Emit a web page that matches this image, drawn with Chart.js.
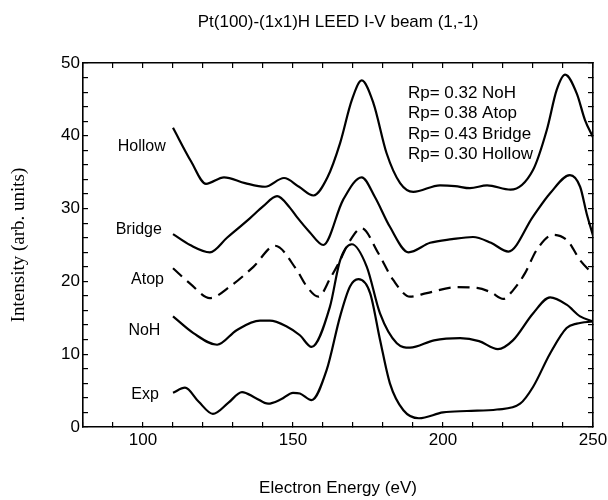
<!DOCTYPE html>
<html>
<head>
<meta charset="utf-8">
<script src="https://cdn.jsdelivr.net/npm/chart.js@4.4.1/dist/chart.umd.min.js"></script>
<style>
    html, body { margin: 0; padding: 0; background: #fff; }
</style>
</head>
<body>
<canvas id="ivChart" width="608" height="500"></canvas>
<script>
// values (energies in eV, intensities in arb. units)
const hollowEnergy = [110, 116, 121, 127, 134, 140.7, 147, 152, 156.8, 161.5, 165.7, 169.6, 172.9, 176.8, 181.2, 185.7, 190.1, 199, 204, 209, 214.7, 222.5, 230, 234.6, 237.9, 240.7, 244.6, 247.3, 250];
const hollowIntensity = [41.1, 36.5, 33.4, 34.3, 33.5, 33.0, 34.2, 33.0, 31.8, 34.3, 39.0, 44.9, 47.6, 44.5, 37.6, 33.5, 32.3, 33.2, 33.1, 32.8, 33.2, 32.6, 35.3, 40.8, 46.3, 48.4, 45.8, 42.2, 39.8];

const bridgeEnergy = [110, 115.7, 122.3, 128, 135.7, 140, 144.7, 149, 151.2, 155.5, 160.1, 166.7, 172.9, 177.3, 182.3, 188.5, 195.7, 203, 210, 216, 221.8, 230, 235.7, 242.3, 245.7, 247.9, 250];
const bridgeIntensity = [26.5, 25.0, 24.0, 26.0, 28.7, 30.3, 31.7, 30.1, 28.9, 26.8, 25.0, 31.2, 34.3, 31.6, 27.5, 24.0, 25.3, 25.8, 26.1, 25.3, 24.1, 28.9, 32.1, 34.6, 33.0, 29.3, 26.3];

const atopEnergy = [110, 115.7, 122.3, 129, 136.8, 144, 151.2, 154.6, 158.5, 162.5, 165.7, 168.4, 172.9, 178.4, 183.4, 189, 194.6, 204.7, 211.3, 216, 220.1, 223.4, 227.3, 231.2, 236.7, 241.7, 245.7, 250];
const atopIntensity = [21.8, 19.7, 17.7, 19.3, 22.0, 24.9, 21.6, 19.3, 17.9, 20.5, 22.9, 25.2, 27.3, 23.9, 20.2, 17.9, 18.4, 19.2, 19.1, 18.5, 17.6, 18.8, 21.1, 24.3, 26.4, 25.5, 22.9, 21.0];

const nohEnergy = [110, 116.8, 124.7, 131.2, 139, 142.3, 147.9, 152.3, 156.2, 162.3, 165.7, 169.6, 174.6, 179, 184.6, 189, 197, 205.7, 212, 218.3, 223.3, 230, 235.7, 241.2, 245.7, 250];
const nohIntensity = [15.2, 12.9, 11.3, 13.3, 14.6, 14.6, 13.8, 12.6, 11.0, 16.5, 22.9, 25.1, 22.0, 15.6, 11.5, 10.9, 11.9, 12.2, 11.8, 10.7, 11.9, 15.6, 17.8, 16.8, 15.2, 14.5];

const expEnergy = [110, 114, 118.5, 123.3, 128.4, 133, 137.5, 141.7, 146, 150, 152.3, 156.2, 161.2, 165.7, 169, 171.8, 175.7, 179, 182.3, 186.8, 192, 200, 208, 218, 225.7, 230, 235.7, 241.2, 244.6, 250];
const expIntensity = [4.7, 5.4, 3.5, 1.8, 3.3, 4.8, 4.0, 3.2, 3.8, 4.7, 4.6, 3.7, 7.8, 15.2, 19.3, 20.3, 18.4, 12.0, 6.0, 2.3, 1.2, 2.0, 2.2, 2.4, 3.2, 5.5, 10.1, 13.6, 14.2, 14.5];

const xTickLabels = [100, 150, 200, 250];
const yTickLabels = [0, 10, 20, 30, 40, 50];

const curveLabels = [
    { text: 'Hollow', x: 107.6, y: 38.5 },
    { text: 'Bridge', x: 106.3, y: 27.1 },
    { text: 'Atop', x: 107.0, y: 20.2 },
    { text: 'NoH', x: 105.8, y: 13.3 },
    { text: 'Exp', x: 105.3, y: 4.5 },
];

const rFactors = ['Rp= 0.32 NoH', 'Rp= 0.38 Atop', 'Rp= 0.43 Bridge', 'Rp= 0.30 Hollow'];

const sansFont = '"Liberation Sans", Arial, sans-serif';

function toPoints(energy, intensity) {
    return energy.map((x, i) => ({ x, y: intensity[i] }));
}

function curve(energy, intensity, dash) {
    return {
        data: toPoints(energy, intensity),
        borderColor: '#000',
        borderWidth: 2.2,
        borderDash: dash,
        pointRadius: 0,
        cubicInterpolationMode: 'monotone',
    };
}

// black frame edge with short ticks pointing into the plot (negative tick length)
const inwardGrid = {
    display: true,
    drawOnChartArea: false,
    drawTicks: true,
    tickLength: -5,
    color: '#000',
    lineWidth: 1.2,
};
const frameBorder = { display: true, color: '#000', width: 1.6 };

// title, curve names and R-factor box
const annotationPlugin = {
    id: 'annotations',
    afterDraw(chart) {
        const { ctx, chartArea: a, scales: { x, y } } = chart;
        ctx.save();
        ctx.fillStyle = '#000';
        ctx.textBaseline = 'middle';

        ctx.font = `17px ${sansFont}`;
        ctx.textAlign = 'center';
        ctx.fillText('Pt(100)-(1x1)H LEED I-V beam (1,-1)', (a.left + a.right) / 2, 22);

        ctx.font = `16px ${sansFont}`;
        ctx.textAlign = 'right';
        curveLabels.forEach((l) => {
            ctx.fillText(l.text, x.getPixelForValue(l.x), y.getPixelForValue(l.y));
        });

        ctx.font = `17px ${sansFont}`;
        ctx.textAlign = 'left';
        const rx = x.getPixelForValue(188.3);
        const ry = y.getPixelForValue(45.9);
        rFactors.forEach((t, i) => {
            ctx.fillText(t, rx, ry + i * 20.5);
        });
        ctx.restore();
    },
};

new Chart(document.getElementById('ivChart'), {
    type: 'line',
    data: {
        datasets: [
            curve(hollowEnergy, hollowIntensity, []),
            curve(bridgeEnergy, bridgeIntensity, []),
            curve(atopEnergy, atopIntensity, [12, 7]),
            curve(nohEnergy, nohIntensity, []),
            curve(expEnergy, expIntensity, []),
        ],
    },
    options: {
        responsive: false,
        animation: false,
        layout: { padding: { top: 63, right: 0, left: 0, bottom: 0 } },
        scales: {
            x: {
                type: 'linear',
                position: 'bottom',
                min: 80,
                max: 250,
                grid: inwardGrid,
                border: frameBorder,
                ticks: {
                    stepSize: 10,
                    autoSkip: false,
                    maxRotation: 0,
                    padding: 8,
                    color: '#000',
                    font: { family: sansFont, size: 17 },
                    callback: (v) => (xTickLabels.includes(v) ? String(v) : ''),
                },
                title: {
                    display: true,
                    text: 'Electron Energy (eV)',
                    color: '#000',
                    font: { family: sansFont, size: 17 },
                    padding: { top: 0, bottom: 1 },
                },
                afterFit(scale) {
                    scale.height = 73;
                    scale.paddingLeft = 0;
                    scale.paddingRight = 15;
                },
            },
            xTop: {
                type: 'linear',
                position: 'top',
                min: 80,
                max: 250,
                grid: inwardGrid,
                border: frameBorder,
                ticks: { display: false, stepSize: 10, autoSkip: false },
                afterFit(scale) {
                    scale.height = 0;
                    scale.paddingLeft = 0;
                    scale.paddingRight = 0;
                },
            },
            y: {
                type: 'linear',
                position: 'left',
                min: 0,
                max: 50,
                grid: inwardGrid,
                border: frameBorder,
                ticks: {
                    stepSize: 2,
                    autoSkip: false,
                    padding: 8,
                    color: '#000',
                    font: { family: sansFont, size: 17 },
                    callback: (v) => (yTickLabels.includes(v) ? String(v) : ''),
                },
                title: {
                    display: true,
                    text: 'Intensity (arb. units)',
                    color: '#000',
                    font: { family: '"Liberation Serif", "Times New Roman", serif', size: 19 },
                    padding: { top: 8, bottom: 0 },
                },
                afterFit(scale) { scale.width = 83; },
            },
            yRight: {
                type: 'linear',
                position: 'right',
                min: 0,
                max: 50,
                grid: inwardGrid,
                border: frameBorder,
                ticks: { display: false, stepSize: 2, autoSkip: false },
                afterFit(scale) {
                    scale.width = 0;
                    scale.paddingTop = 0;
                    scale.paddingBottom = 0;
                },
            },
        },
        plugins: {
            legend: { display: false },
            tooltip: { enabled: false },
        },
    },
    plugins: [annotationPlugin],
});
</script>
</body>
</html>
